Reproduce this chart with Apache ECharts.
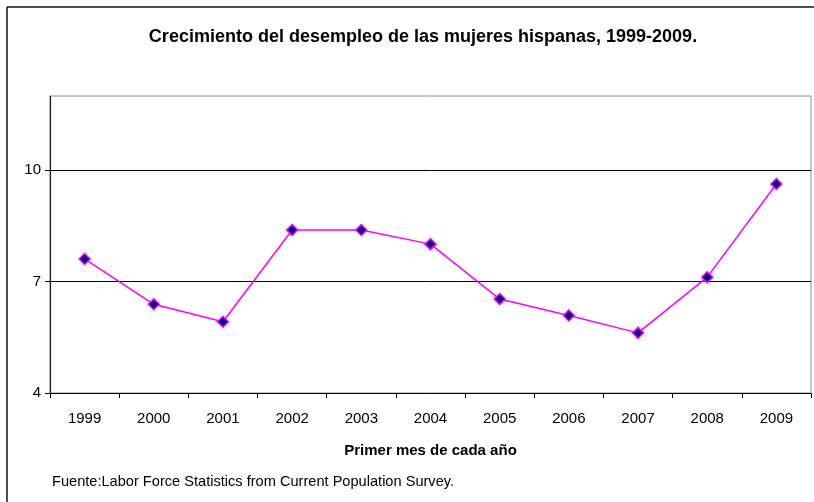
<!DOCTYPE html>
<html>
<head>
<meta charset="utf-8">
<script src="https://cdn.jsdelivr.net/npm/echarts@6/dist/echarts.min.js"></script>
<style>
  html, body { margin: 0; padding: 0; background: #fff; }
  #chart { width: 814px; height: 502px; }
</style>
</head>
<body>
<div id="chart"></div>
<script>
// datos
var years = ['1999', '2000', '2001', '2002', '2003', '2004', '2005', '2006', '2007', '2008', '2009'];
var desempleo = [7.61, 6.39, 5.92, 8.39, 8.39, 8.01, 6.53, 6.09, 5.62, 7.12, 9.63];
var yTicks = [4, 7, 10];

var fontFam = '"Liberation Sans", Arial, sans-serif';

var chart = echarts.init(document.getElementById('chart'));

var option = {
    backgroundColor: '#fff',
    animation: false,
    title: {
        text: 'Crecimiento del desempleo de las mujeres hispanas, 1999-2009.',
        left: 418,
        textAlign: 'center',
        top: 23,
        textStyle: { fontFamily: fontFam, fontSize: 18, fontWeight: 'bold', color: '#000' }
    },
    grid: {
        left: 50, right: 3, top: 96, bottom: 109,
        show: true, borderColor: '#8c8c8c', borderWidth: 1, backgroundColor: '#fff'
    },
    xAxis: {
        type: 'category',
        data: years,
        boundaryGap: true,
        name: 'Primer mes de cada año',
        nameLocation: 'middle',
        nameGap: 50,
        nameTextStyle: { fontFamily: fontFam, fontSize: 15, fontWeight: 'bold', color: '#000' },
        axisLine: { lineStyle: { color: '#000', width: 1 } },
        axisTick: { show: true, inside: false, length: 5, lineStyle: { color: '#000' } },
        axisLabel: { margin: 18, fontFamily: fontFam, fontSize: 15, color: '#000' },
        splitLine: { show: false }
    },
    yAxis: {
        type: 'value',
        min: 4,
        max: 12,
        interval: 1,
        axisLine: { show: true, lineStyle: { color: '#222', width: 1.2 } },
        axisTick: { show: true, length: 5, customValues: yTicks, lineStyle: { color: '#000' } },
        axisLabel: { margin: 9, customValues: yTicks, fontFamily: fontFam, fontSize: 15, color: '#000' },
        splitLine: { show: false }
    },
    graphic: [
        { type: 'line', shape: { x1: 7, y1: 7, x2: 814, y2: 7 }, style: { stroke: '#111', lineWidth: 1.5 }, silent: true },
        { type: 'line', shape: { x1: 7, y1: 7, x2: 7, y2: 502 }, style: { stroke: '#111', lineWidth: 1.5 }, silent: true },
        {
            type: 'text', left: 52, top: 474, silent: true,
            style: { text: 'Fuente:Labor Force Statistics from Current Population Survey.', font: '14.6px ' + fontFam, fill: '#000' }
        }
    ],
    series: [{
        type: 'line',
        data: desempleo,
        symbol: 'diamond',
        symbolSize: 11,
        lineStyle: { color: '#ff00ff', width: 1.5 },
        itemStyle: { color: '#000080', borderColor: '#ff00ff', borderWidth: 1.5 },
        markLine: {
            silent: true,
            symbol: 'none',
            label: { show: false },
            lineStyle: { color: '#000', width: 1, type: 'solid' },
            z: 1,
            data: yTicks.slice(1).map(function (v) { return { yAxis: v }; })
        },
        z: 3
    }]
};

chart.setOption(option);
</script>
</body>
</html>
